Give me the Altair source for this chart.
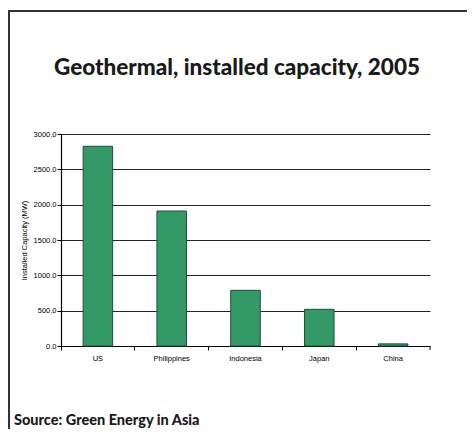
import altair as alt
import pandas as pd

countries = ["US", "Philippines", "Indonesia", "Japan", "China"]
capacity = [2826, 1910, 788, 519, 30]
y_ticks = [0, 500, 1000, 1500, 2000, 2500, 3000]
title_text = "Geothermal, installed capacity, 2005"
source_text = "Source: Green Energy in Asia"
y_title = "Installed Capacity (MW)"

df = pd.DataFrame({"country": countries, "capacity": capacity})
one_src = pd.DataFrame({"t": [source_text]})
one_title = pd.DataFrame({"t": [title_text]})

W, H = 369, 212
PL, PT = 53, 126
TOTAL_W, TOTAL_H = 459, 421

xscale = alt.Scale(domain=countries, paddingInner=0, paddingOuter=0)
yscale = alt.Scale(domain=[0, 3000], nice=False)
small_font = "Liberation Sans"

y_axis = alt.Axis(values=y_ticks, format=".1f", title=y_title,
                  titleFont=small_font, titleFontSize=7.5, titleFontWeight="normal",
                  titleColor="#000", titlePadding=5, labelOverlap=False,
                  labelFont=small_font, labelFontSize=7.5, labelColor="#000",
                  labelPadding=1, tickSize=4, tickColor="#000", domainColor="#000",
                  domainWidth=1.2, grid=True, gridColor="#222", gridWidth=1)

bars = alt.Chart(df).mark_bar(
    width=alt.RelativeBandSize(0.4), color="#339966", stroke="#1d4f36", strokeWidth=1
).encode(
    x=alt.X("country:N", scale=xscale, sort=countries,
            axis=alt.Axis(title=None, orient="bottom", ticks=False, domain=True,
                          domainColor="#000", domainWidth=1.2, labelFont=small_font,
                          labelFontSize=7.5, labelColor="#000", labelPadding=8,
                          labelAngle=0, grid=False)),
    y=alt.Y("capacity:Q", scale=yscale, axis=y_axis),
)

tick_axis = alt.Chart(df).mark_point(opacity=0).encode(
    x=alt.X("country:N", scale=xscale, sort=countries,
            axis=alt.Axis(title=None, orient="bottom", labels=False, domain=False,
                          ticks=True, tickSize=4, tickColor="#000", bandPosition=0,
                          grid=False)),
    y=alt.Y("capacity:Q", scale=yscale, axis=y_axis),
)

last_tick = alt.Chart(one_src).mark_rule(color="#000", strokeWidth=1).encode(
    x=alt.value(W), y=alt.value(H), y2=alt.value(H + 4)
)

frame_v = alt.Chart(one_src).mark_rule(color="#333", strokeWidth=2).encode(
    x=alt.value(-PL + 1), y=alt.value(-PT + 3), y2=alt.value(TOTAL_H - PT)
)
frame_h = alt.Chart(one_src).mark_rule(color="#333", strokeWidth=2).encode(
    x=alt.value(-PL), x2=alt.value(TOTAL_W - PL), y=alt.value(-PT + 3)
)

title = alt.Chart(one_title).mark_text(
    align="center", baseline="alphabetic", font="Lato", fontSize=22.5,
    fontWeight=900, color="#1a1a1a"
).encode(x=alt.value(237 - 61), y=alt.value(75 - 134), text="t:N")

source = alt.Chart(one_src).mark_text(
    align="left", baseline="alphabetic", font="Lato", fontSize=14.5,
    fontWeight=900, color="#1a1a1a"
).encode(x=alt.value(14 - 61), y=alt.value(425 - 134), text="t:N")

chart = alt.layer(bars, tick_axis, last_tick, frame_v, frame_h, title, source).resolve_axis(
    x="independent"
).properties(
    width=W, height=H, background="white",
    autosize=alt.AutoSizeParams(type="none"),
    padding={"left": PL, "top": PT, "right": TOTAL_W - PL - W, "bottom": TOTAL_H - PT - H},
).configure_view(strokeWidth=0, stroke="transparent")

chart.save("out.html", embed_options={"renderer": "svg", "actions": False})
